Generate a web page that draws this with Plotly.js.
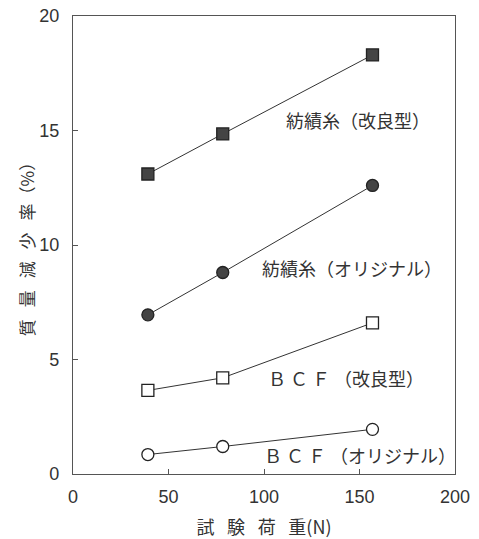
<!DOCTYPE html>
<html><head><meta charset="utf-8">
<script src="https://cdn.plot.ly/plotly-3.0.1.min.js"></script>
<style>body{margin:0;background:#fff}#chart{width:479px;height:539px}</style>
</head><body><div id="chart"></div>
<script>
const loads = [39.2, 78.4, 156.8];
const spunImproved = [13.1, 14.85, 18.3];
const spunOriginal = [6.95, 8.8, 12.6];
const bcfImproved = [3.65, 4.2, 6.6];
const bcfOriginal = [0.85, 1.2, 1.95];
const seriesNames = ["紡績糸（改良型）", "紡績糸（オリジナル）", "Ｂ Ｃ Ｆ （改良型）", "Ｂ Ｃ Ｆ （オリジナル）"];
const xTicks = [0, 50, 100, 150, 200];
const yTicks = [0, 5, 10, 15, 20];

const font = "'Noto Sans CJK JP', 'Noto Sans', sans-serif";
const lineCol = "#333";
function tr(y, sym, fill) {
  return {x: loads, y: y, type: "scatter", mode: "lines+markers", showlegend: false,
    line: {color: lineCol, width: 1},
    marker: {symbol: sym, size: 12, color: fill, line: {color: "#222", width: 1.3}}};
}
const data = [
  tr(spunImproved, "square", "#444"),
  tr(spunOriginal, "circle", "#444"),
  tr(bcfImproved, "square", "#fff"),
  tr(bcfOriginal, "circle", "#fff")
];
const labelPos = [[149, 15.45], [146, 9.0], [143, 4.2], [150, 0.83]];
const annotations = seriesNames.map((t, i) => ({
  x: labelPos[i][0], y: labelPos[i][1], xref: "x", yref: "y", text: t, showarrow: false,
  font: {family: font, size: 18, color: "#333"}, xanchor: "center", yanchor: "middle"
}));
const sp = "\u2002\u2009";
const layout = {
  width: 479, height: 539,
  margin: {l: 73, r: 24, t: 16, b: 65},
  paper_bgcolor: "#fff", plot_bgcolor: "#fff",
  font: {family: font, color: "#333"},
  xaxis: {range: [0, 200], tickvals: xTicks, ticktext: xTicks.map(String),
    showgrid: false, zeroline: false, showline: true, mirror: true, linecolor: "#555", linewidth: 1.2,
    ticks: "inside", ticklen: 5, tickcolor: "#555", ticklabelstandoff: 6,
    tickfont: {family: "'Liberation Sans', Arial, sans-serif", size: 18, color: "#333"},
    title: {text: ["試", "験", "荷", "重(N)"].join(sp), font: {family: font, size: 18, color: "#333"}, standoff: 24}},
  yaxis: {range: [0, 20], tickvals: yTicks, ticktext: yTicks.map(v => v + "\u2002"),
    showgrid: false, zeroline: false, showline: true, mirror: true, linecolor: "#555", linewidth: 1.2,
    ticks: "inside", ticklen: 5, tickcolor: "#555",
    tickfont: {family: "'Liberation Sans', Arial, sans-serif", size: 18, color: "#333"},
    title: {text: ["質", "量", "減", "少", "率（%）"].join(sp), font: {family: font, size: 17, color: "#333"}, standoff: 0}},
  annotations: annotations
};
Plotly.newPlot("chart", data, layout, {staticPlot: true, displayModeBar: false});
</script></body></html>
